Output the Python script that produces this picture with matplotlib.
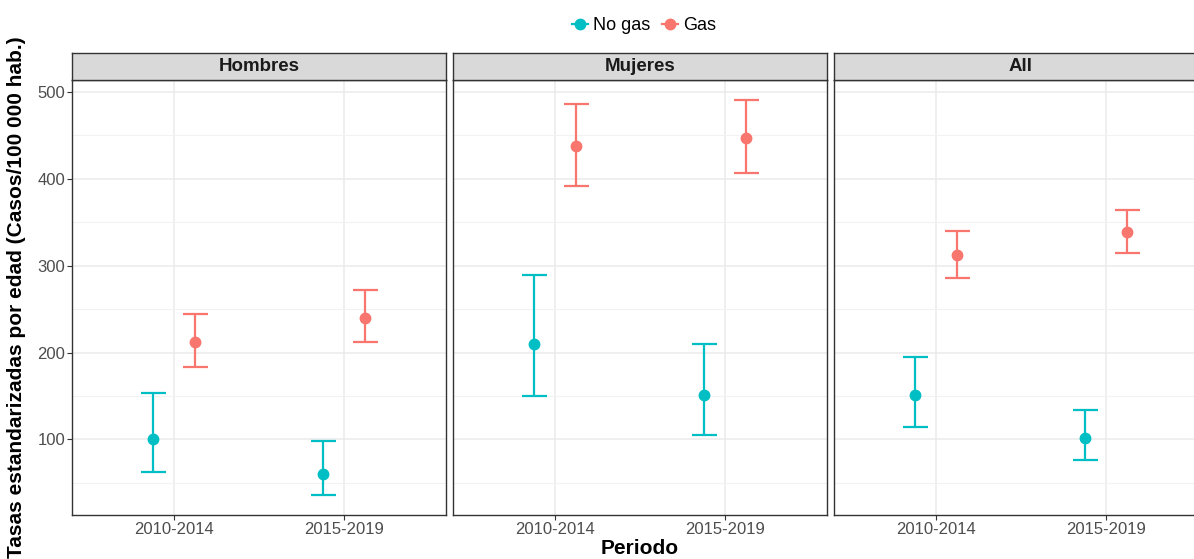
import matplotlib.pyplot as plt
import numpy as np
from matplotlib.lines import Line2D

plt.rcParams['font.family'] = ['Liberation Sans', 'DejaVu Sans']

panels = ['Hombres', 'Mujeres', 'All']
periods = ['2010-2014', '2015-2019']
groups = ['No gas', 'Gas']
colors = ['#00BFC4', '#F8766D']

# rows: Hombres, Mujeres, All / columns: periods
nogas_est = [[100.7, 60.4], [210.0, 150.8], [150.8, 101.5]]
nogas_lo = [[63.0, 35.8], [150.0, 105.4], [114.5, 76.0]]
nogas_hi = [[153.9, 98.5], [289.3, 209.3], [194.7, 134.0]]
gas_est = [[212.0, 240.0], [437.3, 447.3], [312.3, 338.4]]
gas_lo = [[183.6, 212.0], [392.3, 406.5], [286.2, 314.2]]
gas_hi = [[244.0, 272.0], [486.5, 491.0], [340.0, 364.6]]

W, H = 1194, 559
fig = plt.figure(figsize=(W / 100, H / 100), dpi=100)

# pixel layout of the facets (last one runs past the right edge)
lefts = [72, 453, 834]
pw = 374
top, bottom = 80, 515
strip_h = 27

all_lo = np.min([nogas_lo, gas_lo])
all_hi = np.max([nogas_hi, gas_hi])
pad = 0.05 * (all_hi - all_lo)
ylim = (all_lo - pad, all_hi + pad)

x = np.arange(len(periods))
dodge = 0.125

for i, name in enumerate(panels):
    ax = fig.add_axes([lefts[i] / W, (H - bottom) / H, pw / W, (bottom - top) / H])
    sets = [(nogas_est[i], nogas_lo[i], nogas_hi[i]), (gas_est[i], gas_lo[i], gas_hi[i])]
    for g, (est, lo, hi) in enumerate(sets):
        est = np.array(est)
        yerr = [est - np.array(lo), np.array(hi) - est]
        off = -dodge if g == 0 else dodge
        ax.errorbar(x + off, est, yerr=yerr, fmt='o', color=colors[g], ms=7.5,
                    capsize=9, elinewidth=1.6, capthick=1.6, zorder=3)

    ax.set_xlim(-0.6, 1.6)
    ax.set_ylim(*ylim)
    ax.set_xticks(x)
    ax.set_xticklabels(periods)
    ax.set_yticks([100, 200, 300, 400, 500])
    ax.set_yticks([50, 150, 250, 350, 450], minor=True)
    ax.grid(True, which='major', color='#EBEBEB', lw=1.1, zorder=0)
    ax.grid(True, which='minor', axis='y', color='#F2F2F2', lw=0.8, zorder=0)
    ax.set_axisbelow(True)
    ax.tick_params(axis='both', which='major', length=3.5, width=0.8, color='#333333',
                   labelcolor='#4D4D4D', labelsize=12, pad=1.5)
    ax.tick_params(axis='y', which='minor', length=0)
    if i > 0:
        ax.tick_params(axis='y', which='major', length=0, labelleft=False)
    for s in ax.spines.values():
        s.set_color('#333333')
        s.set_linewidth(1.0)

    sax = fig.add_axes([lefts[i] / W, (H - top) / H, pw / W, strip_h / H])
    sax.set_facecolor('#D9D9D9')
    sax.set_xticks([])
    sax.set_yticks([])
    for s in sax.spines.values():
        s.set_color('#333333')
        s.set_linewidth(1.0)
    sax.text(0.5, 0.5, name, transform=sax.transAxes, ha='center', va='center',
             fontsize=13.5, fontweight='bold', color='#1A1A1A')

mid_x = (lefts[0] + lefts[-1] + pw) / 2 / W
fig.text(mid_x, (H - 548) / H, 'Periodo', ha='center', va='center',
         fontsize=15, fontweight='bold')
fig.text(17 / W, (H - (top + bottom) / 2) / H,
         'Tasas estandarizadas por edad (Casos/100 000 hab.)',
         rotation=90, ha='center', va='center', fontsize=15, fontweight='bold')

handles = [Line2D([0], [0], color=c, marker='o', ms=7.5, lw=1.6) for c in colors]
fig.legend(handles, groups, loc='center', bbox_to_anchor=(644 / W, (H - 26) / H),
           ncol=2, frameon=False, fontsize=13, handlelength=0.9, handletextpad=0.3,
           columnspacing=0.6)

fig.savefig('out.png', dpi=100)
